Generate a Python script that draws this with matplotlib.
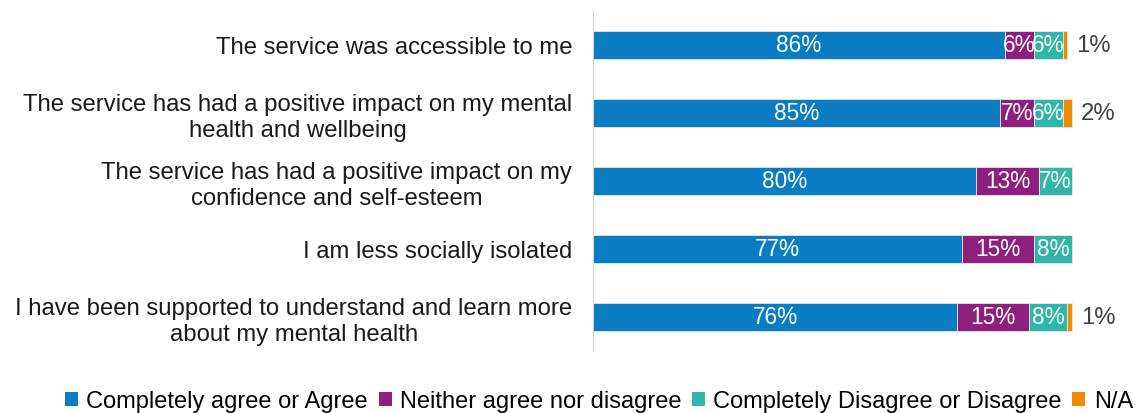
import matplotlib.pyplot as plt
from matplotlib.patches import Patch

plt.rcParams['font.family'] = ['Liberation Sans', 'DejaVu Sans']

statements = [
    "The service was accessible to me",
    "The service has had a positive impact on my mental\nhealth and wellbeing",
    "The service has had a positive impact on my\nconfidence and self-esteem",
    "I am less socially isolated",
    "I have been supported to understand and learn more\nabout my mental health",
]
agree = [86, 85, 80, 77, 76]
neither = [6, 7, 13, 15, 15]
disagree = [6, 6, 7, 8, 8]
not_applicable = [1, 2, 0, 0, 1]

series_names = ["Completely agree or Agree", "Neither agree nor disagree",
                "Completely Disagree or Disagree", "N/A"]
colours = ["#0A7DC2", "#8E1F7E", "#2FB6A9", "#F08A00"]
FS = 17.2

fig = plt.figure(figsize=(11.41, 4.14), dpi=100)
ax = fig.add_axes([593 / 1141, 62 / 414, 527 / 1141, 340 / 414])

rows = list(range(len(statements)))
left = [0] * len(statements)
for vals, colour in zip([agree, neither, disagree, not_applicable], colours):
    bars = ax.barh(rows, vals, left=left, height=0.4, color=colour,
                   edgecolor="#e8e8e8", linewidth=0.6)
    for i, (b, v) in enumerate(zip(bars, vals)):
        if v == 0:
            continue
        if colour == colours[3]:
            # small N/A shares are labelled just past the bar end
            ax.text(left[i] + v + 1.8, i, f"{v}%", va="center", ha="left",
                    fontsize=FS, color="#404040")
        else:
            ax.text(left[i] + v / 2, i, f"{v}%", va="center", ha="center",
                    fontsize=16.3, color="white")
    left = [l + v for l, v in zip(left, vals)]

ax.set_xlim(0, 110)
ax.set_ylim(len(statements) - 0.5, -0.5)
ax.set_yticks(rows)
ax.set_yticklabels(statements, fontsize=FS, color="#1a1a1a", ma="center")
ax.tick_params(axis="y", length=0, pad=15)
ax.set_xticks([])
for side in ["top", "right", "bottom"]:
    ax.spines[side].set_visible(False)
ax.spines["left"].set_color("#d0d0d0")

handles = [Patch(facecolor=c, edgecolor="none") for c in colours]
fig.legend(handles, series_names, loc="center", bbox_to_anchor=(599 / 1141, 12 / 414),
           ncol=4, frameon=False, fontsize=17, handlelength=0.55, handleheight=0.55,
           handletextpad=0.35, columnspacing=0.45, borderpad=0, borderaxespad=0)

fig.savefig("out.png", dpi=100)
